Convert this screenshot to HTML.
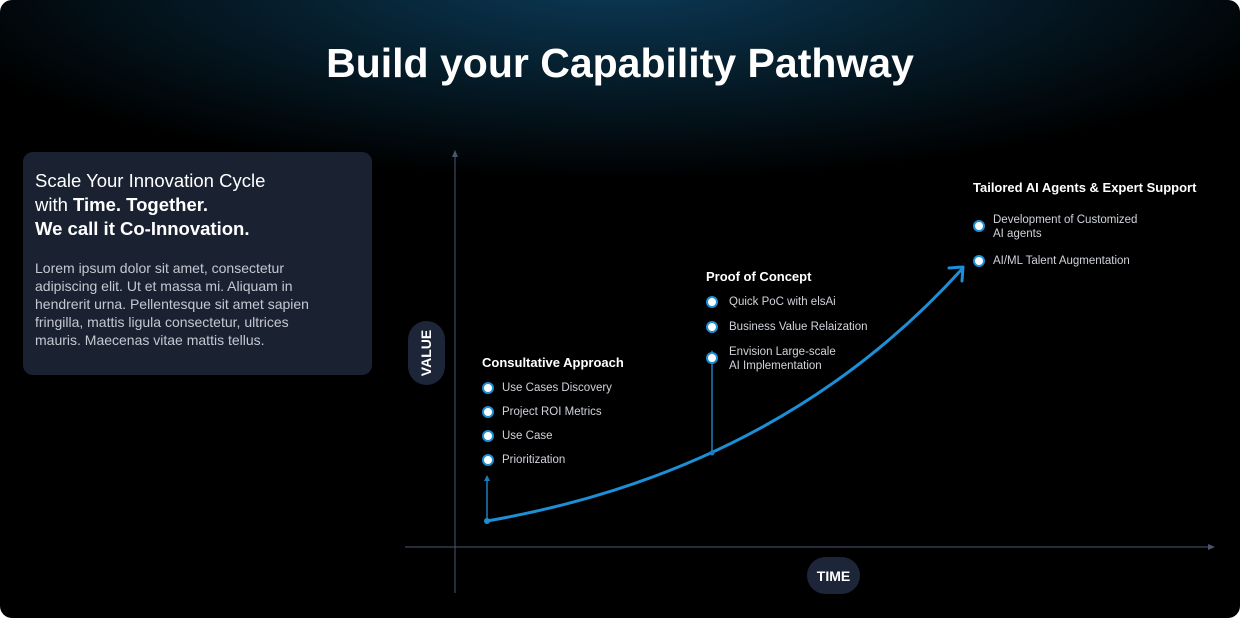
<!DOCTYPE html>
<html><head><meta charset="utf-8"><style>
body{margin:0;background:#fff;width:1240px;height:618px;overflow:hidden;font-family:"Liberation Sans",sans-serif}
#w{position:absolute;left:0;top:0;width:1240px;height:618px;border-radius:12px;overflow:hidden;background:radial-gradient(ellipse 720px 200px at 620px -20px,#0c3a58 0%,#06202f 45%,#000 100%);}
h1{position:absolute;left:0;width:1240px;top:40px;margin:0;text-align:center;color:#fff;font-size:41px;font-weight:bold;letter-spacing:0}
.card{position:absolute;left:23px;top:152px;width:349px;height:223px;background:#1a2232;border-radius:10px;color:#fff}
.t{position:absolute;left:12px;top:17px;font-size:18.5px;line-height:24px}
.p{position:absolute;left:12px;top:107px;width:290px;font-size:14px;line-height:18px;color:#c4c8d0}
.pill{position:absolute;background:#1c2638;color:#fff;font-weight:bold;font-size:14px;display:flex;align-items:center;justify-content:center}
.h{position:absolute;color:#fff;font-weight:bold;font-size:13px}
.i{position:absolute;color:#d0d4da;font-size:11.5px;line-height:14px}
.b{position:absolute;width:8px;height:8px;border-radius:50%;background:#fff;border:2.5px solid #1d8fd6}
</style></head><body><div id="w">
<h1>Build your Capability Pathway</h1>
<div class="card"><div class="t">Scale Your Innovation Cycle<br>with <b>Time. Together.</b><br><b>We call it Co-Innovation.</b></div>
<div class="p">Lorem ipsum dolor sit amet, consectetur adipiscing elit. Ut et massa mi. Aliquam in hendrerit urna. Pellentesque sit amet sapien fringilla, mattis ligula consectetur, ultrices mauris. Maecenas vitae mattis tellus.</div></div>
<svg width="1240" height="618" style="position:absolute;left:0;top:0">
<g stroke="#4a5670" stroke-width="1" fill="none">
<line x1="455" y1="152" x2="455" y2="593"/><line x1="405" y1="547" x2="1213" y2="547"/></g>
<polygon points="455,150 452,157 458,157" fill="#4a5670"/><polygon points="1215,547 1208,544 1208,550" fill="#4a5670"/>
<g stroke="#1a7fc0" stroke-width="1.5"><line x1="487" y1="521" x2="487" y2="479"/><line x1="712" y1="453" x2="712" y2="354"/></g>
<polygon points="487,475 484,481 490,481" fill="#1a7fc0"/><polygon points="712,350 709,356 715,356" fill="#1a7fc0"/>
<path d="M487,521 Q780,470 962,269" stroke="#1d8fd6" stroke-width="3" fill="none"/>
<path d="M949,268 L963,267 L962,281" stroke="#1d8fd6" stroke-width="3" fill="none" stroke-linecap="round" stroke-linejoin="round"/>
<circle cx="487" cy="521" r="3" fill="#1d8fd6"/><circle cx="712" cy="453" r="2.5" fill="#1a7fc0"/>
</svg>
<div class="pill" style="left:408px;top:321px;width:37px;height:64px;border-radius:19px"><span style="transform:rotate(-90deg);display:block">VALUE</span></div>
<div class="pill" style="left:807px;top:557px;width:53px;height:37px;border-radius:19px">TIME</div>
<div class="h" style="left:482px;top:355px">Consultative Approach</div>
<div class="b" style="left:482px;top:382px"></div><div class="i" style="left:502px;top:381px">Use Cases Discovery</div>
<div class="b" style="left:482px;top:406px"></div><div class="i" style="left:502px;top:405px">Project ROI Metrics</div>
<div class="b" style="left:482px;top:430px"></div><div class="i" style="left:502px;top:429px">Use Case</div>
<div class="b" style="left:482px;top:454px"></div><div class="i" style="left:502px;top:453px">Prioritization</div>
<div class="h" style="left:706px;top:269px">Proof of Concept</div>
<div class="b" style="left:706px;top:296px"></div><div class="i" style="left:729px;top:295px">Quick PoC with elsAi</div>
<div class="b" style="left:706px;top:321px"></div><div class="i" style="left:729px;top:320px">Business Value Relaization</div>
<div class="b" style="left:706px;top:352px"></div><div class="i" style="left:729px;top:345px">Envision Large-scale<br>AI Implementation</div>
<div class="h" style="left:973px;top:180px">Tailored AI Agents &amp; Expert Support</div>
<div class="b" style="left:973px;top:220px"></div><div class="i" style="left:993px;top:213px">Development of Customized<br>AI agents</div>
<div class="b" style="left:973px;top:255px"></div><div class="i" style="left:993px;top:254px">AI/ML Talent Augmentation</div>
</div></body></html>
